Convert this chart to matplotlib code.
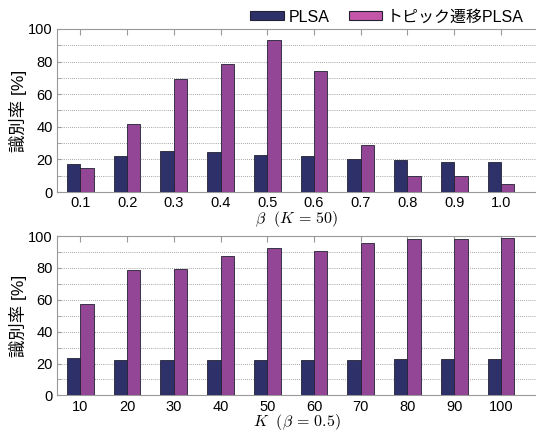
import matplotlib
matplotlib.use("Agg")
import matplotlib.pyplot as plt
import numpy as np
from matplotlib.patches import Patch
from matplotlib.ticker import MultipleLocator

plt.rcParams['font.family'] = ['Liberation Sans', 'Noto Sans CJK JP']
plt.rcParams['mathtext.fontset'] = 'cm'

beta_labels = ['0.1', '0.2', '0.3', '0.4', '0.5', '0.6', '0.7', '0.8', '0.9', '1.0']
beta_plsa = [17.0, 22.2, 25.0, 24.8, 23.0, 22.2, 20.5, 19.9, 18.5, 18.3]
beta_topic = [14.6, 41.7, 69.6, 78.8, 93.2, 74.3, 28.7, 9.9, 9.9, 5.1]

k_labels = ['10', '20', '30', '40', '50', '60', '70', '80', '90', '100']
k_plsa = [23.2, 22.2, 22.0, 22.2, 22.2, 22.2, 22.2, 22.6, 22.6, 22.6]
k_topic = [57.3, 78.6, 79.5, 87.3, 92.4, 90.6, 95.3, 98.2, 98.2, 98.6]

series_names = ['PLSA', 'トピック遷移PLSA']
bar_colors = ['#2E3169', '#934696']
legend_colors = ['#2E3169', '#C455A8']
edge = '#222233'
spine_col = '#999999'

fig = plt.figure(figsize=(5.36, 4.34), dpi=100)
ax1 = fig.add_axes([0.1063, 0.5576, 0.8937, 0.3756])
ax2 = fig.add_axes([0.1063, 0.0890, 0.8937, 0.3672])

def draw(ax, labels, plsa, topic, xlabel):
    x = np.arange(1, len(labels) + 1)
    w = 0.285
    ax.bar(x - w / 2, plsa, w, color=bar_colors[0], edgecolor=edge, linewidth=0.6, zorder=3)
    ax.bar(x + w / 2, topic, w, color=bar_colors[1], edgecolor=edge, linewidth=0.6, zorder=3)
    ax.set_xlim(0.5, 10.75)
    ax.set_ylim(0, 100)
    ax.set_xticks(x)
    ax.set_xticklabels(labels, fontsize=10.5)
    ax.yaxis.set_major_locator(MultipleLocator(20))
    ax.yaxis.set_minor_locator(MultipleLocator(10))
    ax.tick_params(axis='y', which='both', direction='in', labelsize=10.5, length=3, color=spine_col, pad=3)
    ax.tick_params(axis='x', direction='in', top=True, length=4, color=spine_col, pad=3)
    ax.grid(axis='y', which='both', color='#888888', linestyle=(0, (1, 1.5)), linewidth=0.6, zorder=0)
    for s in ['left', 'bottom', 'top']:
        ax.spines[s].set_color(spine_col)
    ax.spines['right'].set_visible(False)
    ax.set_ylabel('識別率 [%]', fontsize=12.5)
    ax.yaxis.set_label_coords(-0.063, 0.5)
    ax.set_xlabel(xlabel, fontsize=11.5, labelpad=-1)

draw(ax1, beta_labels, beta_plsa, beta_topic, r'$\beta\ \ (K\,=\,50)$')
draw(ax2, k_labels, k_plsa, k_topic, r'$K\ \ (\beta\,=\,0.5)$')

handles = [Patch(facecolor=c, edgecolor=edge, linewidth=0.8) for c in legend_colors]
fig.legend(handles, series_names, ncol=2, loc='upper right', bbox_to_anchor=(0.995, 1.0),
           frameon=False, fontsize=11.5, handlelength=2.1, handleheight=0.5,
           handletextpad=0.3, columnspacing=1.2, borderaxespad=0.2)

fig.savefig('out.png', dpi=100)
